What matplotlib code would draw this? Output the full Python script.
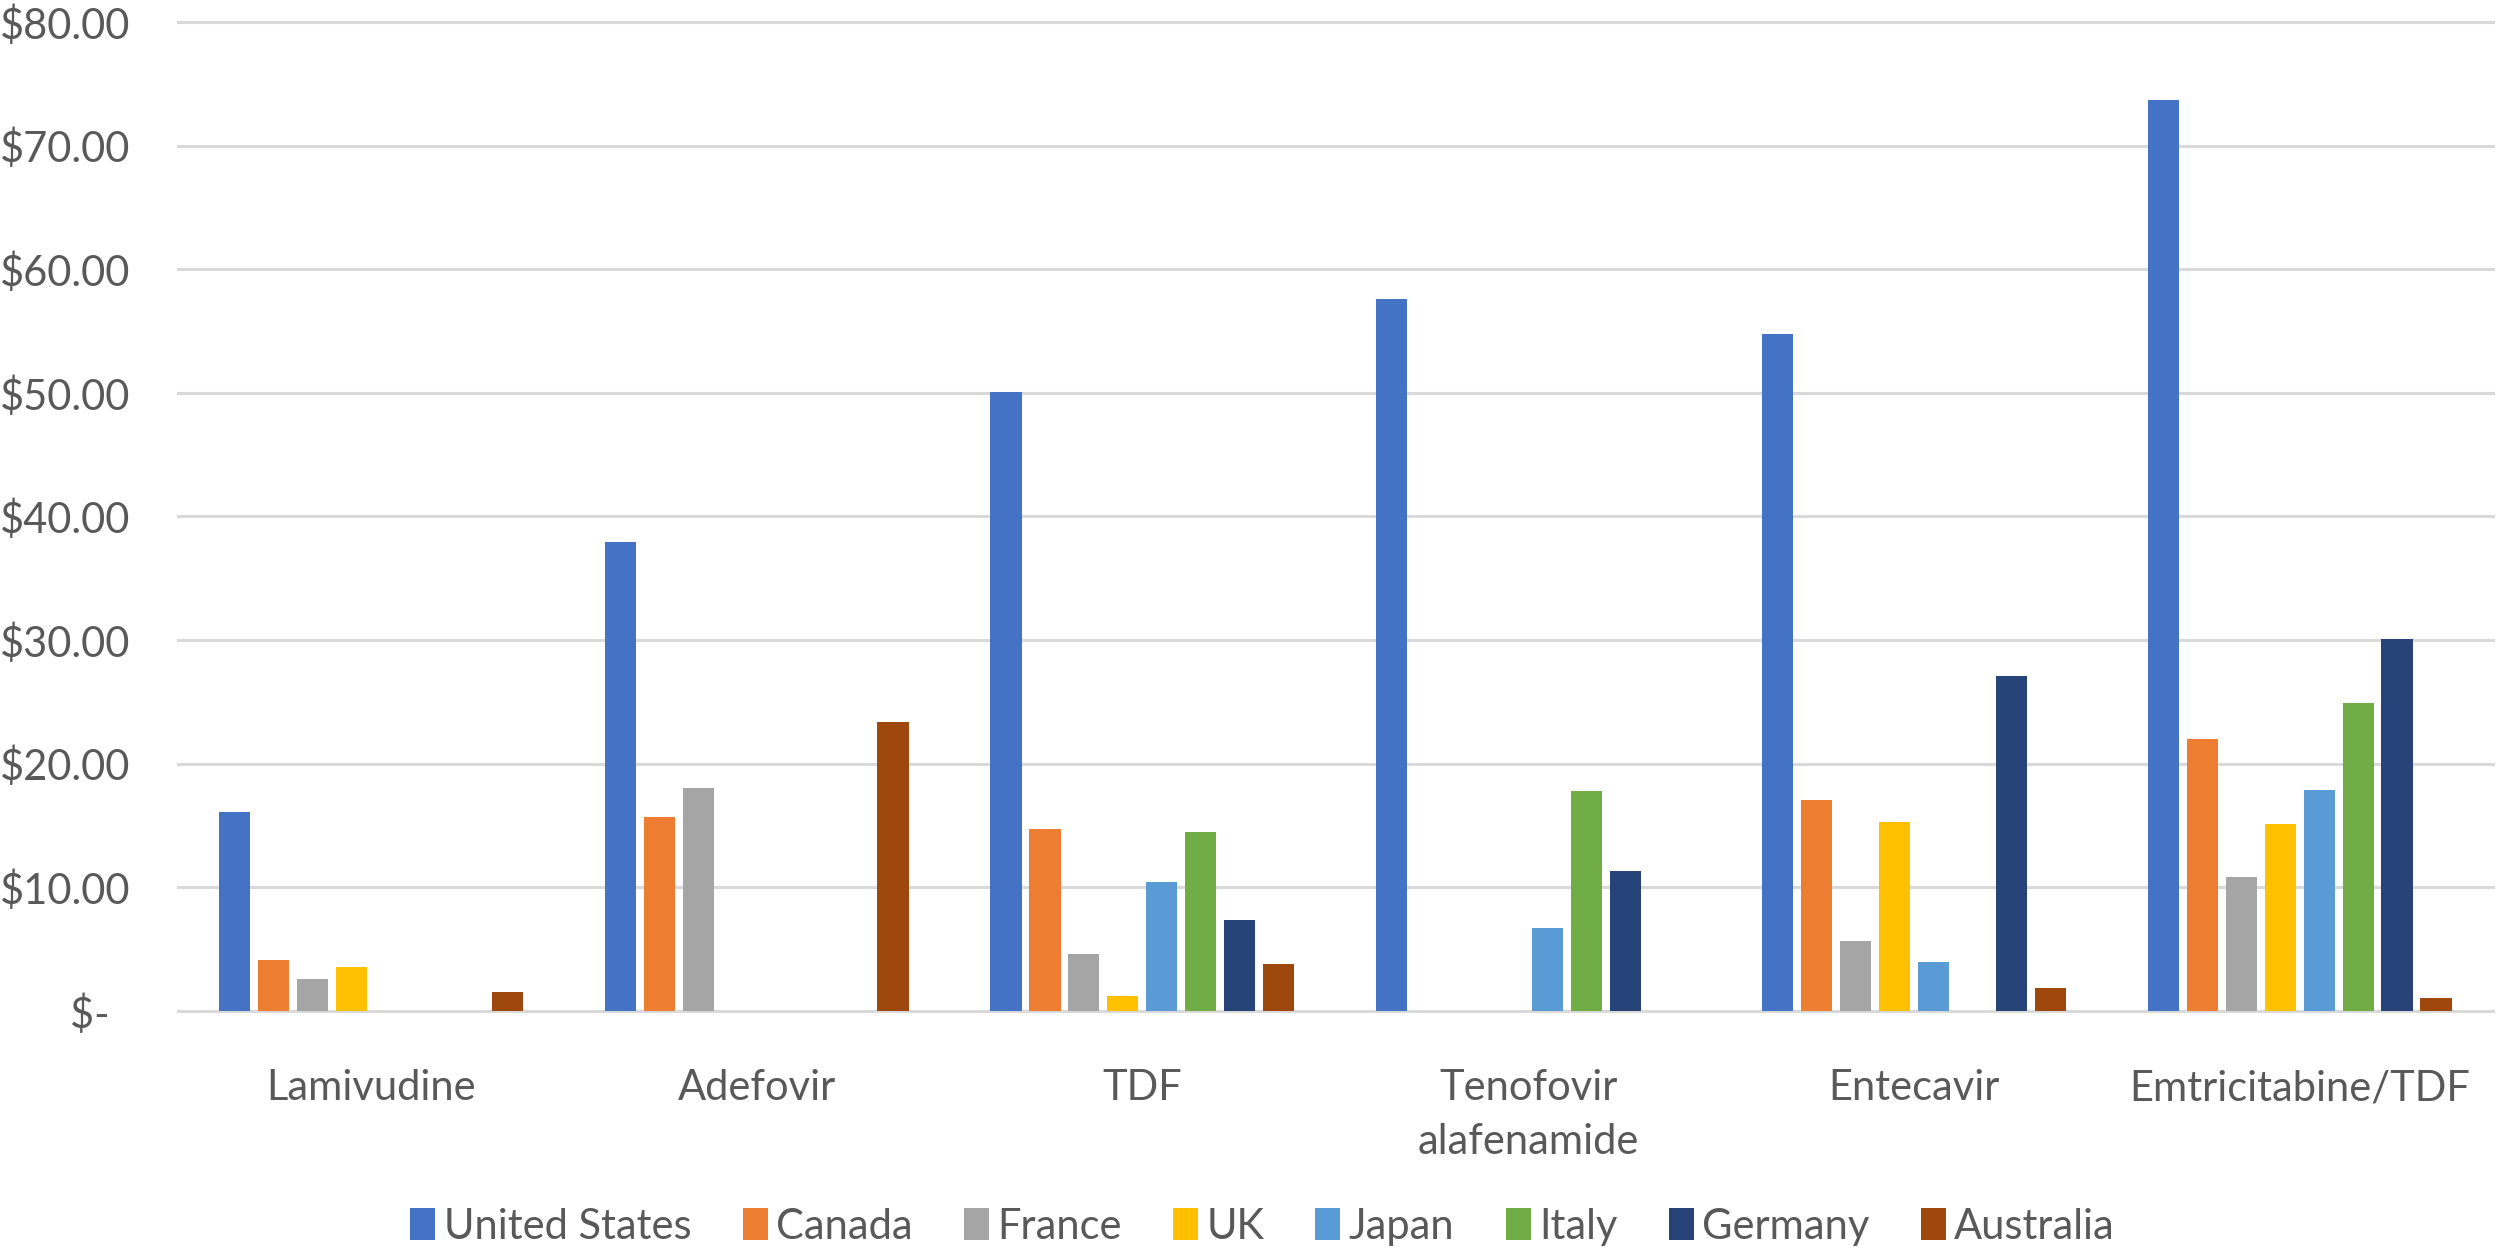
import numpy as np
import matplotlib
matplotlib.use("Agg")
import matplotlib.pyplot as plt
from matplotlib.ticker import FuncFormatter

plt.rcParams['font.family'] = ['Lato', 'DejaVu Sans']

# drugs on the x axis
drugs = ['Lamivudine', 'Adefovir', 'TDF', 'Tenofovir\nalafenamide',
         'Entecavir', 'Emtricitabine/TDF']

countries = ['United States', 'Canada', 'France', 'UK', 'Japan', 'Italy',
             'Germany', 'Australia']

# price per country, one value per drug (nan = no bar)
nan = np.nan
united_states = [16.05, 37.90, 50.04, 57.60, 54.77, 73.70]
canada        = [4.12, 15.70, 14.73, nan, 17.08, 22.00]
france        = [2.56, 18.00, 4.57, nan, 5.68, 10.86]
uk            = [3.53, nan, 1.19, nan, 15.31, 15.08]
japan         = [nan, nan, 10.41, 6.67, 3.95, 17.84]
italy         = [nan, nan, 14.44, 17.78, nan, 24.90]
germany       = [nan, nan, 7.33, 11.32, 27.08, 30.10]
australia     = [1.56, 23.33, 3.83, nan, 1.84, 1.08]

series = [united_states, canada, france, uk, japan, italy, germany, australia]
colors = ['#4472C4', '#ED7D31', '#A5A5A5', '#FFC000', '#5B9BD5', '#70AD47',
          '#264478', '#9E480E']

text_color = '#595959'
fs = 30

fig = plt.figure(figsize=(25, 12.48), dpi=100)
ax = fig.add_axes([0.0712, 0.19, 0.9258, 0.7924])

x = np.arange(len(drugs))
step = 0.101
width = 0.0806
for i, (vals, name, c) in enumerate(zip(series, countries, colors)):
    ax.bar(x + (i - 3.5) * step, vals, width, color=c, label=name, zorder=2)

ax.set_xlim(-0.5, len(drugs) - 0.5)
ax.set_ylim(0, 80)
ax.set_yticks(np.arange(0, 81, 10))


def money(v, pos):
    if v == 0:
        return '$-  '
    return '${:.2f}'.format(v)


ax.yaxis.set_major_formatter(FuncFormatter(money))
ax.set_xticks(x)
ax.set_xticklabels(drugs, linespacing=1.5)

ax.tick_params(axis='both', length=0, labelsize=fs, labelcolor=text_color)
ax.tick_params(axis='y', pad=34)
ax.tick_params(axis='x', pad=42)

for s in ax.spines.values():
    s.set_visible(False)

ax.set_axisbelow(True)
ax.yaxis.grid(True, color='#D9D9D9', linewidth=2.2)
for gl in ax.get_ygridlines():
    gl.set_clip_on(False)

handles, labels = ax.get_legend_handles_labels()
fig.legend(handles, labels, loc='center', bbox_to_anchor=(0.505, 0.017),
           ncol=8, frameon=False, fontsize=fs, labelcolor=text_color,
           handlelength=0.6, handleheight=0.8, handletextpad=0.2,
           columnspacing=1.23, borderpad=0)

fig.savefig('out.png', dpi=100)
